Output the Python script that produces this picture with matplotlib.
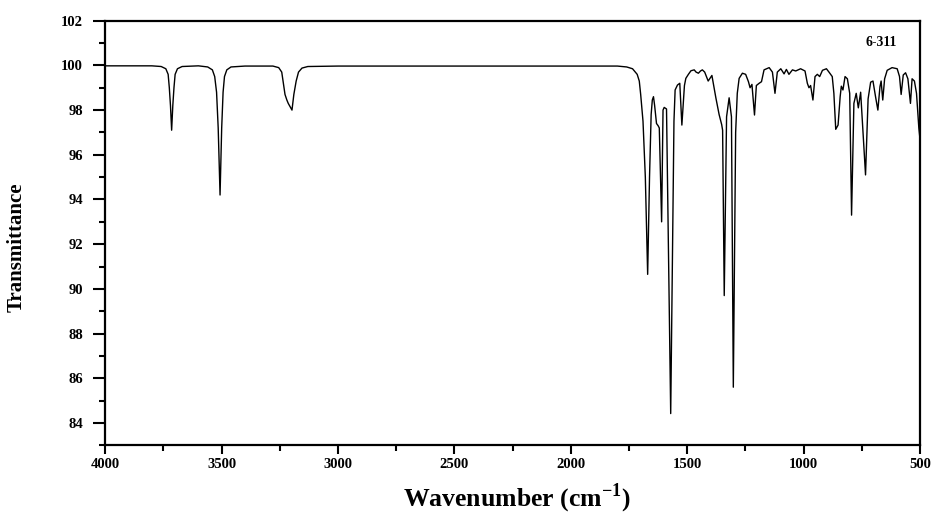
import matplotlib
matplotlib.use("Agg")
import matplotlib.pyplot as plt
from matplotlib.ticker import MultipleLocator, FixedLocator

plt.rcParams['font.family'] = ['Liberation Serif', 'DejaVu Serif']
plt.rcParams['mathtext.fontset'] = 'custom'
plt.rcParams['mathtext.rm'] = 'Liberation Serif:bold'
plt.rcParams['mathtext.bf'] = 'Liberation Serif:bold'

# ---- data ----
wavenumber = [
    4000, 3800, 3760, 3740, 3730, 3725, 3720, 3715, 3710, 3705, 3700, 3690, 3670,
    3600, 3560, 3540, 3530, 3522, 3515, 3507, 3500, 3494, 3488, 3478, 3460, 3400,
    3280, 3255, 3242, 3235, 3228, 3220, 3214, 3198, 3190, 3180, 3170, 3155, 3130,
    3000, 1800, 1760, 1735, 1715, 1706, 1700, 1690, 1680, 1670, 1662, 1655, 1650,
    1645, 1640, 1632, 1625, 1620, 1610, 1604, 1599, 1589, 1571, 1557, 1552, 1542,
    1532, 1523, 1512, 1506, 1495, 1484, 1470, 1462, 1452, 1443, 1435, 1425, 1410,
    1394, 1377, 1363, 1352, 1348, 1341, 1331, 1320, 1310, 1302, 1292, 1285, 1277,
    1263, 1249, 1237, 1230, 1222, 1211, 1203, 1191, 1181, 1170, 1148, 1134, 1123,
    1113, 1098, 1084, 1074, 1063, 1048, 1034, 1013, 994, 984, 977, 970, 960, 951,
    941, 931, 919, 902, 891, 877, 870, 862, 852, 843, 838, 831, 822, 812, 802, 794,
    784, 774, 765, 755, 745, 734, 723, 712, 702, 691, 681, 672, 667, 660, 652, 641,
    620, 598, 588, 581, 572, 562, 552, 541, 534, 524, 515, 505, 500,
]
transmittance = [
    99.98, 99.98, 99.95, 99.85, 99.6, 99.0, 98.2, 97.1, 98.2, 99.0, 99.6, 99.85, 99.95,
    99.98, 99.93, 99.8, 99.5, 98.8, 97.2, 94.2, 97.2, 98.8, 99.5, 99.8, 99.93, 99.97,
    99.97, 99.9, 99.7, 99.2, 98.7, 98.45, 98.3, 98.0, 98.7, 99.3, 99.7, 99.88, 99.95,
    99.97, 99.97, 99.93, 99.85, 99.6, 99.3, 98.7, 97.5, 95.0, 90.65, 95.0, 97.8, 98.45,
    98.6, 98.2, 97.4, 97.3, 97.2, 93.0, 98.0, 98.12, 98.05, 84.42, 97.5, 98.9, 99.12,
    99.2, 97.33, 99.1, 99.42, 99.6, 99.76, 99.8, 99.7, 99.65, 99.75, 99.8, 99.7, 99.3,
    99.55, 98.55, 97.8, 97.35, 97.1, 89.7, 97.7, 98.55, 97.7, 85.6, 97.0, 98.75, 99.42,
    99.65, 99.6, 99.27, 99.0, 99.15, 97.78, 99.1, 99.2, 99.27, 99.8, 99.9, 99.7, 98.75,
    99.7, 99.85, 99.62, 99.82, 99.6, 99.8, 99.75, 99.85, 99.75, 99.2, 99.0, 99.1, 98.45, 99.5,
    99.6, 99.5, 99.78, 99.85, 99.7, 99.5, 98.75, 97.14, 97.33, 98.6, 99.07, 98.9, 99.5, 99.4, 98.75, 93.3,
    98.3, 98.75, 98.1, 98.8, 97.0, 95.1, 98.5, 99.25, 99.3, 98.6, 98.0, 99.05, 99.3, 98.45, 99.4, 99.78,
    99.9, 99.85, 99.5, 98.7, 99.57, 99.67, 99.4, 98.3, 99.4, 99.3, 98.75, 97.2, 96.7,
]

x_ticks = [4000, 3500, 3000, 2500, 2000, 1500, 1000, 500]
y_ticks = [84, 86, 88, 90, 92, 94, 96, 98, 100, 102]
annotation = "6-311"

fig = plt.figure(figsize=(9.35, 5.14), dpi=100)
ax = fig.add_axes([105.3 / 935, 1 - 445.3 / 514, (920 - 105.3) / 935, (445.3 - 20.7) / 514])

ax.plot(wavenumber, transmittance, color='black', linewidth=1.0)

ax.set_xlim(4000, 500)
ax.set_ylim(83, 102)

ax.xaxis.set_major_locator(FixedLocator(x_ticks))
ax.xaxis.set_minor_locator(MultipleLocator(250))
ax.yaxis.set_major_locator(FixedLocator(y_ticks))
ax.yaxis.set_minor_locator(MultipleLocator(1))

ax.set_xticklabels([str(v) for v in x_ticks], fontsize=10.5, fontweight='bold')
ax.set_yticklabels([str(v) for v in y_ticks], fontsize=10.5, fontweight='bold')

ax.tick_params(axis='y', which='major', direction='out', length=9, width=1.5, pad=7)
ax.tick_params(axis='y', which='minor', direction='out', length=4.5, width=1.5)
ax.tick_params(axis='x', which='major', direction='out', length=6.5, width=1.5, pad=3)
ax.tick_params(axis='x', which='minor', direction='out', length=4, width=1.5)

for s in ax.spines.values():
    s.set_linewidth(1.6)

ax.set_xlabel(r"Wavenumber (cm$^{\mathbf{-1}}$)", fontsize=18.5, fontweight='bold')
ax.xaxis.set_label_coords(0.505, -0.086)
ax.set_ylabel("Transmittance", fontsize=15, fontweight='bold')
ax.yaxis.set_label_coords(-0.096, 0.467)

ax.text(0.952, 0.965, annotation, transform=ax.transAxes, fontsize=10,
        fontweight='bold', ha='center', va='top')

fig.savefig("out.png", dpi=100)
